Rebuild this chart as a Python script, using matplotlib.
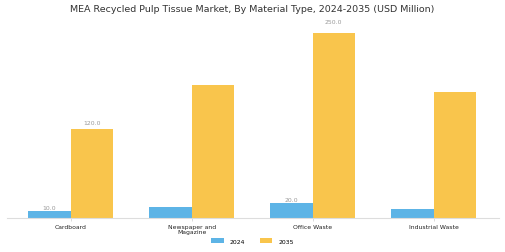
import matplotlib.pyplot as plt
import numpy as np

categories = ['Cardboard', 'Newspaper and\nMagazine', 'Office Waste', 'Industrial Waste']
values_2024 = [10, 15, 20, 12]
values_2035 = [120, 180, 250, 170]
labelled = [0, 2]  # categories that carry value labels

c2024 = '#5DB4E6'
c2035 = '#F9C54C'

fig = plt.figure(figsize=(5.05, 2.53), dpi=100)
ax = fig.add_axes([7 / 505, 34 / 253, 492 / 505, 203.5 / 253])

x = np.arange(len(categories))
w = 0.35
ax.bar(x - w / 2, values_2024, w, color=c2024, label='2024')
ax.bar(x + w / 2, values_2035, w, color=c2035, label='2035')

for i in labelled:
    ax.text(x[i] - w / 2, values_2024[i] * 1.05, f'{values_2024[i]:.1f}',
            ha='center', va='bottom', fontsize=4.4, color='#999999')
    ax.text(x[i] + w / 2, values_2035[i] * 1.05, f'{values_2035[i]:.1f}',
            ha='center', va='bottom', fontsize=4.4, color='#999999')

ax.set_xlim(-0.525, 3.54)
ax.set_ylim(0, 275)
ax.set_xticks(x)
ax.set_xticklabels(categories, fontsize=4.4, color='#222222', linespacing=1.15)
ax.tick_params(axis='x', length=2, width=0.5, color='#cccccc', pad=2)
ax.set_yticks([])
for s in ['top', 'right', 'left']:
    ax.spines[s].set_visible(False)
ax.spines['bottom'].set_color('#dddddd')
ax.spines['bottom'].set_linewidth(0.8)

fig.text(0.5, 1 - 10 / 253, 'MEA Recycled Pulp Tissue Market, By Material Type, 2024-2035 (USD Million)',
         fontsize=6.8, color='#333333', ha='center', va='center')

fig.legend(loc='center', bbox_to_anchor=(0.5, 1 - 242 / 253), ncol=2, fontsize=4.4,
           frameon=False, handlelength=2.0, handleheight=0.7, handletextpad=1.0,
           columnspacing=2.4)

fig.savefig('out.png', dpi=100)
